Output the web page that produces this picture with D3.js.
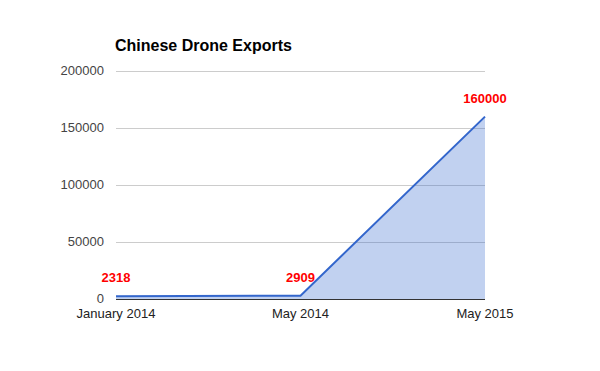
<!DOCTYPE html>
<html>
<head>
	<meta charset="utf-8">
	<script src="https://cdn.jsdelivr.net/npm/d3@7"></script>
	<style>
		body { margin: 0; background: #fff; }
		text { font-family: "Liberation Sans", Arial, sans-serif; }
	</style>
</head>
<body>
	<script>

	var months = ["January 2014", "May 2014", "May 2015"];
	var droneExports = [2318, 2909, 160000];
	var yTicks = [0, 50000, 100000, 150000, 200000];

	var w = 600;
	var h = 371;
	var padL = 116, padR = 485, padT = 71, padB = 299;

	var svg = d3.select("body")
		.append("svg")
		.attr("width", w)
		.attr("height", h);

	var xscale = d3.scalePoint()
		.domain(months)
		.range([padL, padR]);

	var yscale = d3.scaleLinear()
		.domain([0, 200000])
		.range([padB, padT]);

	svg.append("text")
		.attr("x", 115)
		.attr("y", 51)
		.attr("font-size", "16px")
		.attr("font-weight", "bold")
		.attr("fill", "#000")
		.text("Chinese Drone Exports");

	// gridlines
	svg.selectAll("line.grid")
		.data(yTicks.slice(1))
		.enter()
		.append("line")
		.attr("class", "grid")
		.attr("x1", padL)
		.attr("x2", padR)
		.attr("y1", function(d){ return yscale(d) + 0.5; })
		.attr("y2", function(d){ return yscale(d) + 0.5; })
		.attr("stroke", "#cccccc");

	svg.selectAll("text.ytick")
		.data(yTicks)
		.enter()
		.append("text")
		.attr("class", "ytick")
		.attr("x", 104)
		.attr("y", function(d){ return yscale(d) + 4; })
		.attr("text-anchor", "end")
		.attr("font-size", "13px")
		.attr("fill", "#444")
		.text(function(d){ return d; });

	var rows = months.map(function(m, i){ return [m, droneExports[i]]; });

	var area = d3.area()
		.x(function(d){ return xscale(d[0]); })
		.y0(yscale(0))
		.y1(function(d){ return yscale(d[1]); });

	var line = d3.line()
		.x(function(d){ return xscale(d[0]); })
		.y(function(d){ return yscale(d[1]); });

	svg.append("path")
		.attr("d", area(rows))
		.attr("fill", "#3366cc")
		.attr("fill-opacity", 0.3);

	svg.append("path")
		.attr("d", line(rows))
		.attr("fill", "none")
		.attr("stroke", "#3366cc")
		.attr("stroke-width", 2);

	// baseline
	svg.append("line")
		.attr("x1", padL)
		.attr("x2", padR)
		.attr("y1", yscale(0) + 0.5)
		.attr("y2", yscale(0) + 0.5)
		.attr("stroke", "#333");

	svg.selectAll("text.xtick")
		.data(months)
		.enter()
		.append("text")
		.attr("class", "xtick")
		.attr("x", function(d){ return xscale(d); })
		.attr("y", 318)
		.attr("text-anchor", "middle")
		.attr("font-size", "13px")
		.attr("fill", "#222")
		.text(function(d){ return d; });

	svg.selectAll("text.val")
		.data(rows)
		.enter()
		.append("text")
		.attr("class", "val")
		.attr("x", function(d){ return xscale(d[0]); })
		.attr("y", function(d){ return yscale(d[1]) - 14; })
		.attr("text-anchor", "middle")
		.attr("font-size", "13px")
		.attr("font-weight", "bold")
		.attr("fill", "#ff0000")
		.text(function(d){ return d[1]; });

	</script>
</body>
</html>
